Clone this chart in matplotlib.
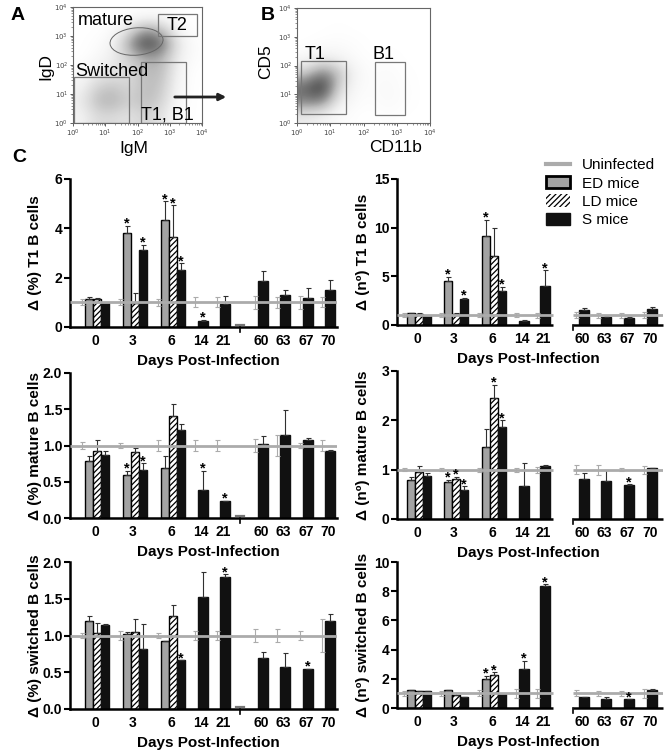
import numpy as np
import matplotlib
matplotlib.use("Agg")
import matplotlib.pyplot as plt
from matplotlib.patches import Rectangle, Ellipse, Patch, FancyArrowPatch
from matplotlib.lines import Line2D

plt.rcParams['font.family'] = ['Liberation Sans', 'DejaVu Sans']
plt.rcParams['hatch.linewidth'] = 0.9

# ------------------------------------------------------------------ data
days = ['0', '3', '6', '14', '21', '60', '63', '67', '70']
group_days = ['0', '3', '6']
legend_labels = ['Uninfected', 'ED mice', 'LD mice', 'S mice']

# Δ(%) T1 B cells
t1p_ed = [1.15, 3.80, 4.34]
t1p_ed_err = [0.07, 0.30, 0.75]
t1p_ld = [1.13, 0.98, 3.64]
t1p_ld_err = [0.05, 0.40, 1.31]
t1p_s = [0.98, 3.12, 2.31, 0.24, 0.92, 1.87, 1.29, 1.18, 1.49]
t1p_s_err = [0.0, 0.21, 0.27, 0.06, 0.33, 0.41, 0.23, 0.41, 0.41]
t1p_un_err = [0.12, 0.12, 0.15, 0.20, 0.20, 0.27, 0.23, 0.27, 0.20]
t1p_stars = [('ED', '3'), ('S', '3'), ('ED', '6'), ('LD', '6'), ('S', '6'), ('S', '14')]

# Δ(nº) T1 B cells
t1n_ed = [1.20, 4.57, 9.17]
t1n_ed_err = [0.0, 0.41, 1.64]
t1n_ld = [1.13, 1.13, 7.10]
t1n_ld_err = [0.07, 0.14, 2.86]
t1n_s = [0.93, 2.68, 3.50, 0.41, 4.05, 1.54, 0.86, 0.76, 1.61]
t1n_s_err = [0.0, 0.13, 0.45, 0.07, 1.55, 0.25, 0.10, 0.10, 0.28]
t1n_un_err = [0.2, 0.2, 0.2, 0.2, 0.25, 0.3, 0.25, 0.25, 0.3]
t1n_stars = [('ED', '3'), ('S', '3'), ('ED', '6'), ('S', '6'), ('S', '21')]

# Δ(%) mature B cells
matp_ed = [0.78, 0.60, 0.69]
matp_ed_err = [0.07, 0.05, 0.16]
matp_ld = [0.93, 0.91, 1.41]
matp_ld_err = [0.15, 0.05, 0.16]
matp_s = [0.87, 0.66, 1.21, 0.38, 0.24, 1.02, 1.14, 1.08, 0.93]
matp_s_err = [0.06, 0.10, 0.09, 0.27, 0.0, 0.11, 0.35, 0.03, 0.01]
matp_un_err = [0.045, 0.03, 0.08, 0.07, 0.08, 0.09, 0.14, 0.03, 0.08]
matp_stars = [('ED', '3'), ('S', '3'), ('S', '14'), ('S', '21')]

# Δ(nº) mature B cells
matn_ed = [0.79, 0.76, 1.45]
matn_ed_err = [0.07, 0.04, 0.37]
matn_ld = [0.95, 0.81, 2.45]
matn_ld_err = [0.12, 0.05, 0.27]
matn_s = [0.87, 0.59, 1.87, 0.66, 1.07, 0.82, 0.78, 0.69, 1.03]
matn_s_err = [0.07, 0.08, 0.13, 0.47, 0.02, 0.11, 0.21, 0.01, 0.01]
matn_un_err = [0.03, 0.03, 0.04, 0.04, 0.06, 0.09, 0.10, 0.03, 0.08]
matn_stars = [('ED', '3'), ('LD', '3'), ('S', '3'), ('LD', '6'), ('S', '6'), ('S', '67')]

# Δ(%) switched B cells
swp_ed = [1.20, 1.02, 0.93]
swp_ed_err = [0.07, 0.03, 0.0]
swp_ld = [1.03, 1.05, 1.27]
swp_ld_err = [0.14, 0.17, 0.14]
swp_s = [1.14, 0.82, 0.66, 1.53, 1.80, 0.70, 0.57, 0.54, 1.20]
swp_s_err = [0.02, 0.34, 0.0, 0.34, 0.03, 0.08, 0.19, 0.01, 0.09]
swp_un_err = [0.035, 0.055, 0.03, 0.06, 0.06, 0.085, 0.095, 0.06, 0.22]
swp_stars = [('S', '6'), ('S', '21'), ('S', '67')]

# Δ(nº) switched B cells
swn_ed = [1.26, 1.26, 2.00]
swn_ed_err = [0.0, 0.0, 0.20]
swn_ld = [1.14, 0.91, 2.24]
swn_ld_err = [0.0, 0.10, 0.20]
swn_s = [1.19, 0.73, 0.96, 2.69, 8.33, 0.75, 0.64, 0.62, 1.26]
swn_s_err = [0.0, 0.0, 0.0, 0.55, 0.16, 0.0, 0.11, 0.0, 0.06]
swn_un_err = [0.15, 0.15, 0.2, 0.3, 0.3, 0.2, 0.15, 0.15, 0.3]
swn_stars = [('ED', '6'), ('LD', '6'), ('S', '14'), ('S', '21'), ('S', '67')]

# flow cytometry density grids (rows: high -> low decade, cols: low -> high decade)
flowA_density = [
    [0.00, 0.00, 0.00, 0.00, 0.02, 0.02, 0.00, 0.00],
    [0.00, 0.00, 0.03, 0.20, 0.45, 0.35, 0.08, 0.00],
    [0.00, 0.02, 0.10, 0.50, 0.90, 0.70, 0.20, 0.02],
    [0.00, 0.05, 0.15, 0.30, 0.45, 0.45, 0.15, 0.02],
    [0.05, 0.15, 0.20, 0.25, 0.40, 0.40, 0.10, 0.00],
    [0.10, 0.30, 0.35, 0.25, 0.40, 0.35, 0.08, 0.00],
    [0.15, 0.40, 0.45, 0.30, 0.40, 0.30, 0.05, 0.00],
    [0.10, 0.25, 0.25, 0.20, 0.30, 0.20, 0.03, 0.00],
]
flowB_density = [
    [0.00, 0.00, 0.00, 0.00, 0.00, 0.00, 0.00, 0.00],
    [0.00, 0.00, 0.01, 0.00, 0.00, 0.00, 0.00, 0.00],
    [0.00, 0.02, 0.03, 0.02, 0.00, 0.00, 0.00, 0.00],
    [0.05, 0.15, 0.10, 0.03, 0.01, 0.02, 0.00, 0.00],
    [0.30, 0.60, 0.40, 0.08, 0.02, 0.04, 0.01, 0.00],
    [0.70, 0.95, 0.30, 0.05, 0.03, 0.05, 0.02, 0.00],
    [0.60, 0.60, 0.15, 0.03, 0.02, 0.05, 0.02, 0.00],
    [0.15, 0.10, 0.03, 0.01, 0.00, 0.02, 0.00, 0.00],
]

# ------------------------------------------------------------------ layout
W, H = 666, 754
fig = plt.figure(figsize=(W / 100, H / 100), dpi=100)


def add_ax(x0, ytop, x1, ybot):
    return fig.add_axes([x0 / W, 1 - ybot / H, (x1 - x0) / W, (ybot - ytop) / H])


def ftext(x, y, s, **kw):
    fig.text(x / W, 1 - y / H, s, **kw)


GRAY = '#a3a3a3'
UNCOL = '#ababab'
BLACK = '#111111'
GW = 8.0    # grouped bar width (px units)
SW = 9.5    # single bar width

COLS = {
    'left': dict(x0=70, x1=337, centers=[27, 65, 103, 133, 155, 193, 215, 238, 260],
                 gap=170, segments=None, xlab=208, ylab=35),
    'right': dict(x0=397, x1=663, centers=[22, 59, 97, 127, 148, 187, 209, 232, 255],
                  gap=None, segments=[(0, 156), (176, 266)], xlab=528, ylab=363),
}


def bar_panel(col, ytop, ybot, ymax, yticks, yticklabels, ed, ed_err, ld, ld_err,
              s, s_err, un_err, stars, ylabel):
    c = COLS[col]
    ax = add_ax(c['x0'], ytop, c['x1'], ybot)
    L = c['x1'] - c['x0']
    ax.set_xlim(0, L)
    ax.set_ylim(0, ymax)
    cen = c['centers']
    pos, top = {}, {}
    un_x = []
    for i, d in enumerate(days):
        if d in group_days:
            j = group_days.index(d)
            pos[('ED', d)] = cen[i] - GW
            pos[('LD', d)] = cen[i]
            pos[('S', d)] = cen[i] + GW
            top[('ED', d)] = ed[j] + ed_err[j]
            top[('LD', d)] = ld[j] + ld_err[j]
            un_x.append(cen[i] - 1.5 * GW - 3)
        else:
            pos[('S', d)] = cen[i]
            un_x.append(cen[i] - SW / 2 - 3)
        top[('S', d)] = s[i] + s_err[i]

    gx = [pos[('ED', d)] for d in group_days]
    ax.bar(gx, ed, GW, color=GRAY, edgecolor='black', linewidth=1.0, zorder=2)
    lx = [pos[('LD', d)] for d in group_days]
    ax.bar(lx, ld, GW, color='white', edgecolor='black', linewidth=1.0, hatch='//////', zorder=2)
    sx = [pos[('S', d)] for d in days]
    sw = [GW if d in group_days else SW for d in days]
    ax.bar(sx, s, sw, color=BLACK, edgecolor=BLACK, linewidth=1.0, zorder=2)

    ek = dict(fmt='none', ecolor='#303030', elinewidth=0.8, capsize=1.8, capthick=0.8, zorder=3)
    ax.errorbar(gx, ed, yerr=[np.zeros(3), ed_err], **ek)
    ax.errorbar(lx, ld, yerr=[np.zeros(3), ld_err], **ek)
    ax.errorbar(sx, s, yerr=[np.zeros(len(s)), s_err], **ek)

    # uninfected reference line
    if c['segments'] is None:
        ax.plot([0, L], [1, 1], color=UNCOL, lw=2.0, zorder=4, solid_capstyle='butt')
    else:
        for a, b in c['segments']:
            ax.plot([a, b], [1, 1], color=UNCOL, lw=2.0, zorder=4, solid_capstyle='butt')
    ax.errorbar(un_x, np.ones(len(un_x)), yerr=un_err, fmt='none', ecolor=UNCOL,
                elinewidth=0.8, capsize=1.8, capthick=0.8, zorder=4)

    for key in stars:
        ax.annotate('*', (pos[key], top[key]), xytext=(0, -1.5), textcoords='offset points',
                    ha='center', va='baseline', fontsize=10.5, fontweight='bold', zorder=5,
                    annotation_clip=False)

    # axes styling
    ax.spines['top'].set_visible(False)
    ax.spines['right'].set_visible(False)
    ax.spines['left'].set_linewidth(1.8)
    if c['segments'] is None:
        ax.spines['bottom'].set_linewidth(1.8)
        g = c['gap']
        ax.plot([g - 4, g + 4], [0.012 * ymax] * 2, color='#777777', lw=1.6, zorder=3)
        ax.plot([g, g], [0, -0.035 * ymax], color='black', lw=1.2, clip_on=False)
    else:
        ax.spines['bottom'].set_visible(False)
        for a, b in c['segments']:
            ax.plot([a, b], [0, 0], color='black', lw=1.8, clip_on=False,
                    solid_capstyle='butt', zorder=5)
        a2 = c['segments'][1][0]
        ax.plot([a2, a2], [0, -0.035 * ymax], color='black', lw=1.2, clip_on=False)

    ax.set_yticks(yticks)
    ax.set_yticklabels(yticklabels, fontsize=10, fontweight='bold')
    ax.tick_params(axis='y', length=4, width=1.5, pad=1.5)
    ax.set_xticks([x - 2 for x in cen])
    ax.set_xticklabels(days, fontsize=10, fontweight='bold')
    ax.tick_params(axis='x', length=0, pad=5)

    ftext(c['xlab'], ybot + 34, 'Days Post-Infection', ha='center', va='center',
          fontsize=11, fontweight='bold')
    ftext(c['ylab'], (ytop + ybot) / 2, ylabel, ha='center', va='center', rotation=90,
          fontsize=11, fontweight='bold')
    return ax


bar_panel('left', 179, 327, 6, [0, 2, 4, 6], ['0', '2', '4', '6'],
          t1p_ed, t1p_ed_err, t1p_ld, t1p_ld_err, t1p_s, t1p_s_err, t1p_un_err,
          t1p_stars, 'Δ (%) T1 B cells')
bar_panel('right', 179, 325, 15, [0, 5, 10, 15], ['0', '5', '10', '15'],
          t1n_ed, t1n_ed_err, t1n_ld, t1n_ld_err, t1n_s, t1n_s_err, t1n_un_err,
          t1n_stars, 'Δ (nº) T1 B cells')
bar_panel('left', 373, 518, 2.0, [0, 0.5, 1.0, 1.5, 2.0], ['0.0', '0.5', '1.0', '1.5', '2.0'],
          matp_ed, matp_ed_err, matp_ld, matp_ld_err, matp_s, matp_s_err, matp_un_err,
          matp_stars, 'Δ (%) mature B cells')
bar_panel('right', 371, 519, 3, [0, 1, 2, 3], ['0', '1', '2', '3'],
          matn_ed, matn_ed_err, matn_ld, matn_ld_err, matn_s, matn_s_err, matn_un_err,
          matn_stars, 'Δ (nº) mature B cells')
bar_panel('left', 562, 709, 2.0, [0, 0.5, 1.0, 1.5, 2.0], ['0.0', '0.5', '1.0', '1.5', '2.0'],
          swp_ed, swp_ed_err, swp_ld, swp_ld_err, swp_s, swp_s_err, swp_un_err,
          swp_stars, 'Δ (%) switched B cells')
bar_panel('right', 562, 708, 10, [0, 2, 4, 6, 8, 10], ['0', '2', '4', '6', '8', '10'],
          swn_ed, swn_ed_err, swn_ld, swn_ld_err, swn_s, swn_s_err, swn_un_err,
          swn_stars, 'Δ (nº) switched B cells')

# legend
handles = [Line2D([0], [0], color=UNCOL, lw=3),
           Patch(facecolor=GRAY, edgecolor='black', linewidth=2),
           Patch(facecolor='white', edgecolor='black', linewidth=0, hatch='//////'),
           Patch(facecolor=BLACK, edgecolor=BLACK)]
fig.legend(handles, legend_labels, loc='upper left', bbox_to_anchor=(546 / W, 1 - 158 / H),
           frameon=False, fontsize=11, handlelength=1.6, handleheight=0.85,
           handletextpad=0.75, labelspacing=0.25, borderpad=0, borderaxespad=0)


# ------------------------------------------------------------------ flow panels
def flow_panel(x0, ytop, x1, ybot, grid):
    ax = add_ax(x0, ytop, x1, ybot)
    ax.imshow(np.array(grid), extent=(0, 4, 0, 4), origin='upper', cmap='Greys',
              vmin=0, vmax=1.05, interpolation='bicubic', aspect='auto')
    ax.set_xlim(0, 4)
    ax.set_ylim(0, 4)
    ticks = [0, 1, 2, 3, 4]
    labels = [r'$10^{%d}$' % t for t in ticks]
    ax.set_xticks(ticks)
    ax.set_xticklabels(labels, fontsize=5)
    ax.set_yticks(ticks)
    ax.set_yticklabels(labels, fontsize=5)
    minor = [d + np.log10(m) for d in range(4) for m in range(2, 10)]
    ax.set_xticks(minor, minor=True)
    ax.set_yticks(minor, minor=True)
    ax.tick_params(which='major', length=2.5, width=0.6, pad=1, colors='#444444')
    ax.tick_params(which='minor', length=1.2, width=0.4, colors='#444444')
    for sp in ax.spines.values():
        sp.set_color('#666666')
        sp.set_linewidth(0.8)
    return ax


gate = dict(fill=False, edgecolor='#777777', linewidth=0.9)
axA = flow_panel(73, 7, 202, 123, flowA_density)
axA.add_patch(Ellipse((1.97, 2.81), 1.65, 0.94, angle=6, fill=False,
                      edgecolor='#666666', linewidth=0.7))
axA.add_patch(Rectangle((2.64, 3.0), 1.2, 0.76, **gate))
axA.add_patch(Rectangle((0.04, 0.0), 1.70, 1.59, **gate))
axA.add_patch(Rectangle((2.10, 0.0), 1.40, 2.10, **gate))
axA.text(0.16, 3.52, 'mature', fontsize=13, va='center', ha='left')
axA.text(3.22, 3.36, 'T2', fontsize=13, va='center', ha='center')
axA.text(0.08, 1.78, 'Switched', fontsize=13, va='center', ha='left')
axA.text(2.10, 0.26, 'T1, B1', fontsize=13, va='center', ha='left')

axB = flow_panel(297, 8, 430, 123, flowB_density)
axB.add_patch(Rectangle((0.12, 0.31), 1.36, 1.83, **gate))
axB.add_patch(Rectangle((2.35, 0.28), 0.90, 1.84, **gate))
axB.text(0.22, 2.38, 'T1', fontsize=13, va='center', ha='left')
axB.text(2.27, 2.38, 'B1', fontsize=13, va='center', ha='left')

ftext(46, 67, 'IgD', rotation=90, ha='center', va='center', fontsize=12.5)
ftext(134, 148, 'IgM', ha='center', va='center', fontsize=12.5)
ftext(266, 62, 'CD5', rotation=90, ha='center', va='center', fontsize=12.5)
ftext(396, 148, 'CD11b', ha='center', va='center', fontsize=12.5)

arrow = FancyArrowPatch((172 / W, 1 - 97 / H), (229 / W, 1 - 97 / H), transform=fig.transFigure,
                        arrowstyle='-|>', mutation_scale=10, lw=2, color='#222222')
fig.patches.append(arrow)

ftext(18, 16, 'A', ha='center', va='center', fontsize=14, fontweight='bold')
ftext(268, 16, 'B', ha='center', va='center', fontsize=14, fontweight='bold')
ftext(19, 158, 'C', ha='center', va='center', fontsize=14, fontweight='bold')

fig.savefig('out.png', dpi=100)
